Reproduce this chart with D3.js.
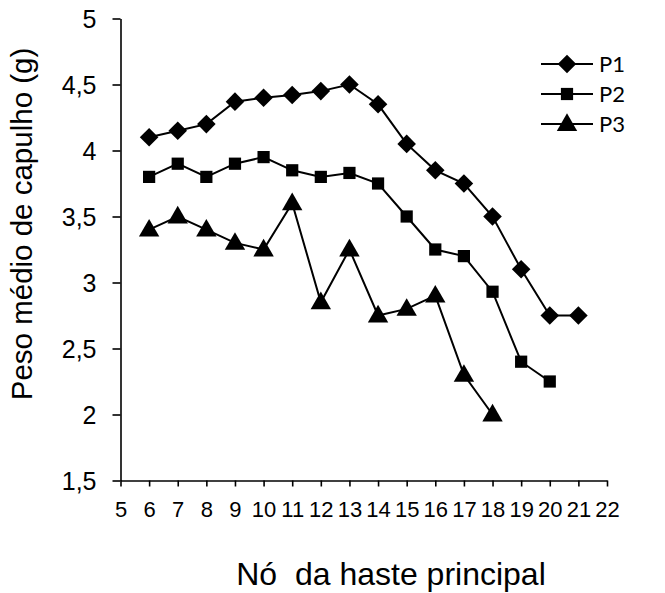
<!DOCTYPE html>
<html>
<head>
<meta charset="utf-8">
<script src="https://cdn.jsdelivr.net/npm/d3@7"></script>
<style>
  body { margin: 0; background: #fff; }
  text { font-family: "Liberation Sans", Arial, sans-serif; }
</style>
</head>
<body>
<div id="container"></div>
<script>
// 数据
const nodesP1 = [6, 7, 8, 9, 10, 11, 12, 13, 14, 15, 16, 17, 18, 19, 20, 21];
const valuesP1 = [4.1, 4.15, 4.2, 4.37, 4.4, 4.42, 4.45, 4.5, 4.35, 4.05, 3.85, 3.75, 3.5, 3.1, 2.75, 2.75];
const nodesP2 = [6, 7, 8, 9, 10, 11, 12, 13, 14, 15, 16, 17, 18, 19, 20];
const valuesP2 = [3.8, 3.9, 3.8, 3.9, 3.95, 3.85, 3.8, 3.83, 3.75, 3.5, 3.25, 3.2, 2.93, 2.4, 2.25];
const nodesP3 = [6, 7, 8, 9, 10, 11, 12, 13, 14, 15, 16, 17, 18];
const valuesP3 = [3.4, 3.5, 3.4, 3.3, 3.25, 3.6, 2.85, 3.25, 2.75, 2.8, 2.9, 2.3, 2.0];
const seriesNames = ["P1", "P2", "P3"];
const xTicks = d3.range(5, 23);
const yTicks = [1.5, 2, 2.5, 3, 3.5, 4, 4.5, 5];

const WIDTH = 665, HEIGHT = 593;
const svg = d3.select("#container").append("svg")
    .attr("width", WIDTH).attr("height", HEIGHT);

// 比例尺
const x = d3.scaleLinear().domain([5, 22]).range([120.5, 607]);
const y = d3.scaleLinear().domain([1.5, 5]).range([480.5, 18.5]);

// 坐标轴
const xAxis = svg.append("g")
    .attr("transform", `translate(0,${y(1.5)})`)
    .call(d3.axisBottom(x).tickValues(xTicks).tickSize(6).tickSizeOuter(0).tickPadding(8));
const yAxis = svg.append("g")
    .attr("transform", `translate(${x(5)},0)`)
    .call(d3.axisLeft(y).tickValues(yTicks).tickSize(8).tickSizeOuter(0).tickPadding(16)
        .tickFormat(d => String(d).replace(".", ",")));
[xAxis, yAxis].forEach(g => {
    g.attr("font-size", null).attr("font-family", null);
    g.selectAll("path, line").attr("stroke", "#000").attr("stroke-width", 1.6);
    g.selectAll("text").attr("fill", "#000");
});
xAxis.selectAll("text").style("font-size", "22px").attr("dy", "1.02em");
yAxis.selectAll("text").style("font-size", "25px").attr("dy", "0.36em");

// 标题
svg.append("text")
    .attr("x", 391).attr("y", 585)
    .attr("text-anchor", "middle")
    .style("font-size", "32px")
    .style("white-space", "pre")
    .text("Nó  da haste principal");
svg.append("text")
    .attr("transform", "translate(32,224) rotate(-90)")
    .attr("text-anchor", "middle")
    .style("font-size", "29.5px")
    .text("Peso médio de capulho (g)");

// 标记
const symbols = [d3.symbolDiamond2, d3.symbolSquare2, d3.symbolTriangle];
const symSizes = [220, 190, 180];
const series = [
    nodesP1.map((n, i) => ({ n, v: valuesP1[i] })),
    nodesP2.map((n, i) => ({ n, v: valuesP2[i] })),
    nodesP3.map((n, i) => ({ n, v: valuesP3[i] }))
];

function marker(g, k) {
    const s = d3.symbol().type(symbols[k]).size(symSizes[k]);
    return g.append("path").attr("d", s()).attr("fill", "#000");
}

const line = d3.line().x(d => x(d.n)).y(d => y(d.v));
series.forEach((data, k) => {
    const g = svg.append("g");
    g.append("path").datum(data)
        .attr("d", line)
        .attr("fill", "none")
        .attr("stroke", "#000")
        .attr("stroke-width", 2);
    g.selectAll("g.pt").data(data).enter().append("g")
        .attr("class", "pt")
        .attr("transform", d => `translate(${x(d.n)},${y(d.v) + (k === 2 ? 1 : 0)})`)
        .each(function () { marker(d3.select(this), k); });
});

// 图例
const legend = svg.append("g").attr("transform", "translate(541,64)");
seriesNames.forEach((name, k) => {
    const row = legend.append("g").attr("transform", `translate(0,${k * 30})`);
    row.append("line").attr("x1", 0).attr("x2", 52).attr("y1", 0).attr("y2", 0)
        .attr("stroke", "#000").attr("stroke-width", 2);
    const m = row.append("g").attr("transform", `translate(26,${k === 2 ? 1 : 0})`);
    marker(m, k);
    row.append("text").attr("x", 58).attr("y", 0).attr("dy", "0.36em")
        .style("font-family", "Lato, 'Open Sans', sans-serif")
        .style("font-size", "22px")
        .text(name);
});
</script>
</body>
</html>
